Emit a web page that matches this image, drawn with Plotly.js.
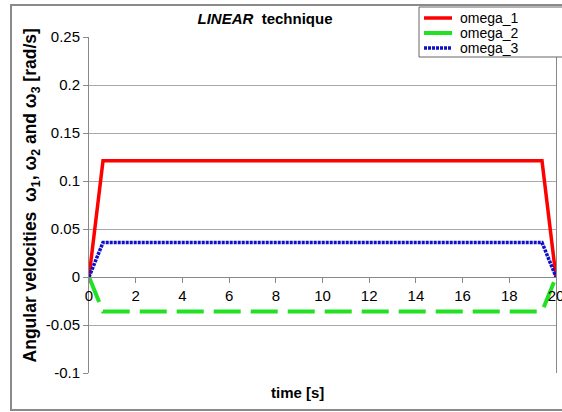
<!DOCTYPE html>
<html>
<head>
<meta charset="utf-8">
<script src="https://cdn.plot.ly/plotly-3.0.1.min.js"></script>
<style>
html,body{margin:0;padding:0;background:#fff;}
#chart{width:562px;height:412px;}
</style>
</head>
<body>
<div id="chart"></div>
<script>
// time samples [s]
var time = [0, 0.6, 19.4, 20];
// angular velocities [rad/s]
var omega_1 = [0, 0.121, 0.121, 0];
var omega_2 = [0, -0.036, -0.036, 0];
var omega_3 = [0, 0.036, 0.036, 0];
var seriesNames = ['omega_1', 'omega_2', 'omega_3'];
var xTicks = [0, 2, 4, 6, 8, 10, 12, 14, 16, 18, 20];
var yTicks = [-0.1, -0.05, 0, 0.05, 0.1, 0.15, 0.2, 0.25];

var F = 'Liberation Sans, Arial, sans-serif';
var styles = [
  {color: '#ff0000', width: 3.5},
  {color: '#22e022', width: 4, dash: '27px,10px'},
  {color: '#1010c8', width: 3.5, dash: '3px,1px'}
];
var series = [omega_1, omega_2, omega_3];

var traces = series.map(function(s, i){
  return {x: time, y: s, name: seriesNames[i], mode: 'lines', line: styles[i], showlegend: false};
});

var yr = [-0.1, 0.25];
var zeroPos = (0 - yr[0]) / (yr[1] - yr[0]);

// pixel helpers for layout decoration (plot area: x 89..556, y 37..373)
function px(x){ return (x - 89) / 467; }
function py(y){ return (373 - y) / 336; }

var shapes = [
  {type: 'rect', xref: 'paper', yref: 'paper', x0: px(11), x1: px(575), y0: py(410), y1: py(5),
   line: {color: '#8a8a8a', width: 2}, fillcolor: 'rgba(0,0,0,0)', layer: 'below'},
  {type: 'rect', xref: 'paper', yref: 'paper', x0: px(419), x1: px(575), y0: py(57), y1: py(7),
   line: {color: '#666', width: 1}, fillcolor: '#ffffff', layer: 'above'}
];
var annotations = [{
  text: '<b>time [s]</b>', xref: 'paper', yref: 'paper',
  x: px(297), y: py(392), xanchor: 'center', yanchor: 'middle',
  showarrow: false, font: {family: F, size: 15, color: '#000'}
}];
var legendRows = [18, 33, 48];
seriesNames.forEach(function(n, i){
  var ls = {color: styles[i].color, width: styles[i].width};
  if (i === 2) ls.dash = styles[i].dash;
  shapes.push({type: 'line', xref: 'paper', yref: 'paper', x0: px(424), x1: px(452),
    y0: py(legendRows[i]), y1: py(legendRows[i]), line: ls, layer: 'above'});
  annotations.push({text: n, xref: 'paper', yref: 'paper', x: px(458), y: py(legendRows[i]),
    xanchor: 'left', yanchor: 'middle', showarrow: false,
    font: {family: F, size: 14, color: '#000'}});
});

var layout = {
  width: 562, height: 412,
  margin: {l: 89, r: 6, t: 37, b: 39},
  paper_bgcolor: '#ffffff', plot_bgcolor: '#ffffff',
  showlegend: false,
  font: {family: F, size: 15, color: '#000'},
  title: {
    text: '<b><i>LINEAR</i>  technique</b>',
    font: {family: F, size: 15, color: '#000'},
    xref: 'container', x: 265/562, xanchor: 'center',
    yref: 'container', y: 1 - 19/412, yanchor: 'middle'
  },
  xaxis: {
    range: [0, 20], tickvals: xTicks, ticktext: xTicks.map(String),
    anchor: 'free', position: zeroPos,
    showline: true, linecolor: '#888', linewidth: 1,
    ticks: 'outside', ticklen: 5, tickcolor: '#888',
    showgrid: false, zeroline: false, ticklabeloverflow: 'allow',
    tickfont: {family: F, size: 15, color: '#000'}
  },
  yaxis: {
    range: yr, tickvals: yTicks, ticktext: yTicks.map(function(v){return String(v);}),
    showline: true, linecolor: '#888', linewidth: 1, mirror: true,
    ticks: 'outside', ticklen: 5, tickcolor: '#888',
    showgrid: true, gridcolor: '#a8a8a8', gridwidth: 1, zeroline: false,
    tickfont: {family: F, size: 15, color: '#000'},
    title: {
      text: '<b>\u00a0\u00a0\u00a0\u00a0Angular velocities  ω<sub>1</sub>, ω<sub>2</sub> and ω<sub>3</sub> [rad/s]</b>',
      font: {family: F, size: 17.5, color: '#000'}, standoff: 4
    }
  },
  annotations: annotations,
  shapes: shapes
};

Plotly.newPlot('chart', traces, layout, {displayModeBar: false, staticPlot: true});
</script>
</body>
</html>
